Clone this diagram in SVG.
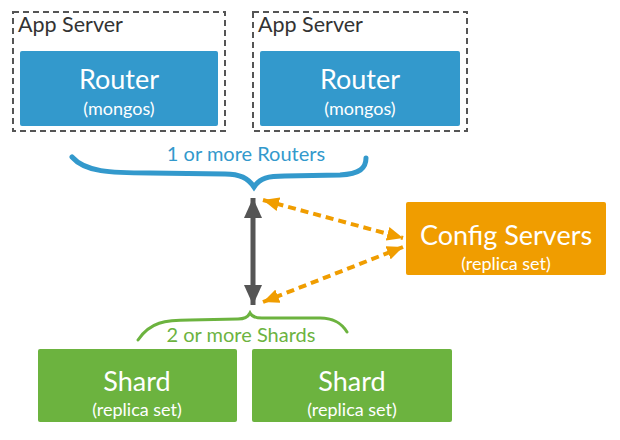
<svg xmlns="http://www.w3.org/2000/svg" width="620" height="440" viewBox="0 0 620 440">
<defs>
<style>
text{font-family:"Lato","Open Sans","DejaVu Sans",sans-serif}
.host{fill:none;stroke:#555;stroke-width:2;stroke-dasharray:6 4}
.hostlbl{fill:#333;font-size:21.5px}
.big{fill:#fff;font-size:27px;text-anchor:middle}
.small{fill:#fff;font-size:18px;text-anchor:middle}
.router{fill:#3399cc}
.shard{fill:#6cb33f}
.cfg{fill:#f09d00}
</style>
<marker id="ga" viewBox="0 0 20 18" refX="20" refY="9" markerWidth="20" markerHeight="18" markerUnits="userSpaceOnUse" orient="auto-start-reverse"><path d="M0,0 L20,9 L0,18 z" fill="#555"/></marker>
<marker id="oa" viewBox="0 0 16 14" refX="16" refY="7" markerWidth="16" markerHeight="14" markerUnits="userSpaceOnUse" orient="auto-start-reverse"><path d="M0,0 L16,7 L0,14 z" fill="#f09d00"/></marker>
</defs>
<g id="appserver1"><rect class="host" x="13" y="12" width="212" height="119"/><text class="hostlbl" x="18" y="32">App Server</text></g>
<g id="appserver2"><rect class="host" x="253" y="12" width="214" height="119"/><text class="hostlbl" x="258" y="32">App Server</text></g>
<g id="router1"><rect class="router" x="20" y="51" width="198" height="75" rx="2"/><text class="big" x="119" y="89">Router</text><text class="small" x="119" y="115">(mongos)</text></g>
<g id="router2"><rect class="router" x="260" y="51" width="200" height="75" rx="2"/><text class="big" x="360" y="89">Router</text><text class="small" x="360" y="115">(mongos)</text></g>
<g id="routers-brace"><path d="M72,157 C85,172 110,173 150,173 L225,174 C240,174 248,178 254,187 C260,178 268,176 285,176 L340,175 C360,174 366,168 366,158" fill="none" stroke="#3399cc" stroke-width="5" stroke-linecap="round"/><text x="246" y="161" fill="#3399cc" font-size="20" text-anchor="middle">1 or more Routers</text></g>
<g id="config"><rect class="cfg" x="406" y="202" width="200" height="73" rx="2"/><text class="big" x="506" y="245">Config Servers</text><text class="small" x="506" y="270">(replica set)</text></g>
<g id="shards-brace"><path d="M138,340 C150,322 165,320 190,320 L238,319 C245,319 248,317 250,313 C252,317 256,318 262,318 L320,318 C335,318 342,324 347,332" fill="none" stroke="#6cb33f" stroke-width="3" stroke-linecap="round"/><text x="241" y="342" fill="#6cb33f" font-size="20" text-anchor="middle">2 or more Shards</text></g>
<g id="shard1"><rect class="shard" x="38" y="349" width="199" height="73" rx="2"/><text class="big" x="137" y="391">Shard</text><text class="small" x="137" y="416">(replica set)</text></g>
<g id="shard2"><rect class="shard" x="252" y="349" width="200" height="73" rx="2"/><text class="big" x="352" y="391">Shard</text><text class="small" x="352" y="416">(replica set)</text></g>
<g id="connectors">
<line x1="253" y1="198" x2="253" y2="305" stroke="#555" stroke-width="5" marker-start="url(#ga)" marker-end="url(#ga)"/>
<line x1="263" y1="200" x2="403" y2="238" stroke="#f09d00" stroke-width="4" stroke-dasharray="8 5" marker-start="url(#oa)" marker-end="url(#oa)"/>
<line x1="403" y1="247" x2="263" y2="302" stroke="#f09d00" stroke-width="4" stroke-dasharray="8 5" marker-start="url(#oa)" marker-end="url(#oa)"/>
</g>
</svg>
